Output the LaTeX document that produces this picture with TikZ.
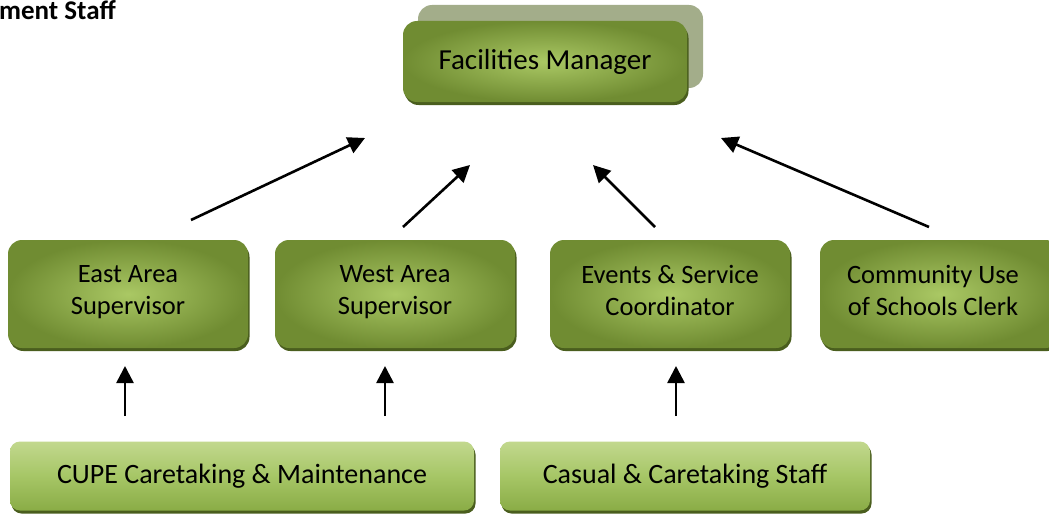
\documentclass[tikz,border=0pt]{standalone}
\usepackage{fontspec}
\setmainfont{Carlito}
\usetikzlibrary{arrows.meta,shadows}
\definecolor{boxout}{RGB}{112,140,50}
\definecolor{boxin}{RGB}{170,200,100}
\definecolor{boxedge}{RGB}{74,94,30}
\definecolor{lighttop}{RGB}{194,216,142}
\definecolor{lightmid}{RGB}{166,198,102}
\definecolor{lightbot}{RGB}{138,172,70}
\definecolor{backbox}{RGB}{163,173,138}
\tikzset{
  darkbox/.style={rounded corners=14pt, inner color=boxin, outer color=boxout,
    drop shadow={shadow xshift=1.5pt, shadow yshift=-3pt, fill=boxedge, opacity=1},
    align=center, font=\fontsize{26.5}{32}\selectfont, inner sep=0pt},
  lightbox/.style={rounded corners=10pt, top color=lighttop, bottom color=lightbot, middle color=lightmid,
    drop shadow={shadow xshift=1.5pt, shadow yshift=-3pt, fill=boxedge, opacity=1},
    align=center, font=\fontsize{28}{32}\selectfont, inner sep=0pt},
  arr/.style={line width=2.6pt, -{Triangle[length=17pt,width=17pt]}}
}
\begin{document}
\begin{tikzpicture}[x=1pt,y=-1pt]
\clip (0,0) rectangle (1049,519);
\fill[white] (0,0) rectangle (1049,519);
% title
\node[anchor=base west, inner sep=0pt, font=\bfseries\fontsize{27}{30}\selectfont] (title) at (-1,20) {ment Staff};
% top
\node[rounded corners=14pt, fill=backbox, minimum width=285pt, minimum height=83pt] (fmback) at (560.5,46.5) {};
\node[darkbox, minimum width=284pt, minimum height=81pt, font=\fontsize{29}{32}\selectfont] (fm) at (545,61.5) {Facilities Manager};
% middle row
\node[darkbox, minimum width=240pt, minimum height=108pt] (east) at (128,294) {East Area\\Supervisor\\[-24pt]};
\node[darkbox, minimum width=240pt, minimum height=108pt] (west) at (395,294) {West Area\\Supervisor\\[-24pt]};
\node[darkbox, minimum width=240pt, minimum height=108pt] (events) at (670,294) {Events \& Service\\Coordinator\\[-24pt]};
\node[darkbox, minimum width=240pt, minimum height=108pt] (cus) at (940,294) {\hspace*{-14pt}Community Use\\\hspace*{-14pt}of Schools Clerk\\[-24pt]};
% bottom row
\node[lightbox, minimum width=464pt, minimum height=69pt] (cupe) at (242,476) {CUPE Caretaking \& Maintenance};
\node[lightbox, minimum width=370pt, minimum height=69pt] (casual) at (685,476) {Casual \& Caretaking Staff};
% arrow end points
\coordinate (a1s) at (191,220); \coordinate (a1e) at (365,138);
\coordinate (a2s) at (403,227); \coordinate (a2e) at (470,165);
\coordinate (a3s) at (655,227); \coordinate (a3e) at (593,165);
\coordinate (a4s) at (929,227); \coordinate (a4e) at (721,138);
\coordinate (b1s) at (125,416); \coordinate (b1e) at (125,366);
\coordinate (b2s) at (385,416); \coordinate (b2e) at (385,366);
\coordinate (b3s) at (676,416); \coordinate (b3e) at (676,366);
\draw[arr] (a1s) -- (a1e);
\draw[arr] (a2s) -- (a2e);
\draw[arr] (a3s) -- (a3e);
\draw[arr] (a4s) -- (a4e);
\draw[arr] (b1s) -- (b1e);
\draw[arr] (b2s) -- (b2e);
\draw[arr] (b3s) -- (b3e);
\end{tikzpicture}
\end{document}
